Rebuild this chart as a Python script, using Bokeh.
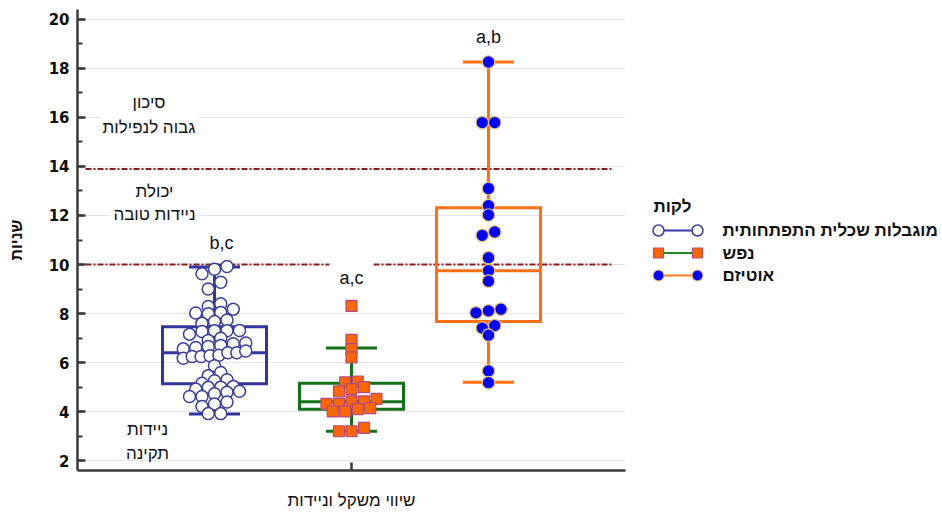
from bokeh.plotting import figure
from bokeh.layouts import row
from bokeh.models import Range1d, Label, FixedTicker, SingleIntervalTicker
from bokeh.embed import file_html
from bokeh.resources import INLINE

# ---------------- data ----------------
groups = ["מוגבלות שכלית התפתחותית", "נפש", "אוטיזם"]
group_x = [1, 2, 3]

# points per beeswarm row, left to right (seconds)
blue_rows = [
    [9.62, 9.81, 9.92],
    [9.0, 9.28],
    [8.29, 8.4],
    [8.02, 7.99, 8.04, 8.18],
    [7.6, 7.68, 7.74],
    [7.16, 7.27, 7.3, 7.3, 7.31],
    [6.9, 6.99],
    [6.56, 6.62, 6.66, 6.7, 6.77, 6.8],
    [6.18, 6.25, 6.25, 6.28, 6.3, 6.4, 6.4, 6.47],
    [5.87],
    [5.46, 5.6],
    [5.16, 5.26, 5.3],
    [4.92, 4.99, 5.0, 5.03],
    [4.62, 4.62, 4.73, 4.79, 4.83],
    [4.21, 4.31, 4.39],
    [3.92, 3.92],
]
green_rows = [
    [8.31],
    [6.93],
    [6.55],
    [6.21],
    [5.19, 5.23],
    [4.83, 4.92, 5.0],
    [4.32, 4.32, 4.42, 4.42, 4.52],
    [4.01, 4.01, 4.1, 4.14],
    [3.2, 3.2, 3.34],
]
orange_rows = [
    [18.26],
    [15.79, 15.79],
    [13.1],
    [12.4],
    [12.02],
    [11.19, 11.33],
    [10.28],
    [9.75],
    [9.32],
    [8.03, 8.11, 8.18],
    [7.41, 7.51],
    [7.12],
    [5.66],
    [5.18],
]

whisker_low = [3.9, 3.2, 5.2]
q1 = [5.14, 4.1, 7.68]
median = [6.4, 4.4, 9.75]
q3 = [7.46, 5.16, 12.32]
whisker_high = [9.9, 6.6, 18.26]

sig_labels = ["b,c", "a,c", "a,b"]
sig_label_y = [10.89, 9.47, 19.27]

thresholds = [10.0, 13.9]
zone_texts = ["סיכון\nגבוה לנפילות", "יכולת\nניידות טובה", "ניידות\nתקינה"]
zone_y = [16.1, 12.51, 2.78]

legend_title = "לקות"
x_axis_title = "שיווי משקל וניידות"
y_axis_title = "שניות"

# ---------------- styles / layout ----------------
BOX_COLORS = ["#33359A", "#13711A", "#FF7014"]
FONT = "Liberation Sans"
X_START, X_END = 0, 4
FRAME_W = 548
PX = (X_END - X_START) / FRAME_W          # data units per pixel
D = 12.5 * PX                             # swarm column step
MAX_HALF = 2.5 * D
BOX_W = 104 * PX
CAP_W = 51 * PX
RULE_X0, RULE_X1 = 8 * PX, 536 * PX
SIG_DX = [7 * PX, 0, 0]
ZONE_X = [71.5 * PX, 77 * PX, 70 * PX]
ZONE_LH = [1.35, 1.25, 1.3]
ZONE_BG = ["white", "white", None]

MAIN_W, H = 633, 512
B_LEFT, B_RIGHT, B_TOP, B_BOTTOM = 77, 8, 9, 42


def swarm(rows, cx):
    xs, ys = [], []
    for r in rows:
        n = len(r)
        step = D if n <= 1 else min(D, 2 * MAX_HALF / (n - 1))
        for i, v in enumerate(r):
            xs.append(cx + (i - (n - 1) / 2) * step)
            ys.append(v)
    return xs, ys


p = figure(width=MAIN_W, height=H, x_range=Range1d(X_START, X_END),
           y_range=Range1d(1.6, 20.4), output_backend="svg", title=None,
           toolbar_location=None, min_border_left=B_LEFT, min_border_right=B_RIGHT,
           min_border_top=B_TOP, min_border_bottom=B_BOTTOM)
p.outline_line_color = None
p.background_fill_color = "white"
p.xgrid.visible = False
p.ygrid.grid_line_color = "#C8C8C8"
p.ygrid.grid_line_dash = "1 1"
p.ygrid.grid_line_width = 1

yax = p.yaxis[0]
yax.ticker = SingleIntervalTicker(interval=2, num_minor_ticks=2)
yax.axis_line_color = "#3A3A3A"
yax.axis_line_width = 2.5
yax.major_tick_line_color = "#3A3A3A"
yax.major_tick_line_width = 2.5
yax.major_tick_in = 8
yax.major_tick_out = 0
yax.minor_tick_line_color = "#3A3A3A"
yax.minor_tick_line_width = 2
yax.minor_tick_in = 5
yax.minor_tick_out = 0
yax.major_label_text_font = "DejaVu Sans"
yax.major_label_text_font_style = "bold"
yax.major_label_text_font_size = "15px"
yax.major_label_text_color = "#111111"
yax.major_label_standoff = 8
yax.axis_label = y_axis_title
yax.axis_label_text_font = FONT
yax.axis_label_text_font_style = "bold"
yax.axis_label_text_font_size = "16px"
yax.axis_label_text_color = "#111111"
yax.axis_label_standoff = 21

xax = p.xaxis[0]
xax.ticker = FixedTicker(ticks=[], minor_ticks=[group_x[1]])
xax.axis_line_color = "#3A3A3A"
xax.axis_line_width = 2.5
xax.major_tick_line_color = None
xax.minor_tick_line_color = "#3A3A3A"
xax.minor_tick_line_width = 2.5
xax.minor_tick_in = 8
xax.minor_tick_out = 0
xax.major_label_standoff = 0
xax.axis_label = x_axis_title
xax.axis_label_text_font = FONT
xax.axis_label_text_font_style = "normal"
xax.axis_label_text_font_size = "17px"
xax.axis_label_text_color = "#111111"
xax.axis_label_standoff = 20

# threshold rules
p.segment(x0=[RULE_X0] * len(thresholds), x1=[RULE_X1] * len(thresholds),
          y0=thresholds, y1=thresholds, line_color="#8B1A1A", line_width=2,
          line_dash="6 2 2 2")

# box plots
left = [g - BOX_W / 2 for g in group_x]
right = [g + BOX_W / 2 for g in group_x]
p.quad(left=left, right=right, top=q3, bottom=q1, fill_color=None,
       line_color=BOX_COLORS, line_width=3, line_join="miter")
p.segment(x0=left, x1=right, y0=median, y1=median, line_color=BOX_COLORS, line_width=3)
p.segment(x0=group_x, x1=group_x, y0=q3, y1=whisker_high, line_color=BOX_COLORS, line_width=3)
p.segment(x0=group_x, x1=group_x, y0=q1, y1=whisker_low, line_color=BOX_COLORS, line_width=3)
cl = [g - CAP_W / 2 for g in group_x]
cr = [g + CAP_W / 2 for g in group_x]
p.segment(x0=cl, x1=cr, y0=whisker_high, y1=whisker_high, line_color=BOX_COLORS, line_width=3)
p.segment(x0=cl, x1=cr, y0=whisker_low, y1=whisker_low, line_color=BOX_COLORS, line_width=3)

# points
bx, by = swarm(blue_rows, group_x[0])
gx, gy = swarm(green_rows, group_x[1])
ox, oy = swarm(orange_rows, group_x[2])
p.scatter(bx, by, marker="circle", size=12, fill_color="white",
          line_color="#3B3DA0", line_width=1.5)
p.scatter(gx, gy, marker="square", size=11, fill_color="#FF6600",
          line_color="#B04C82", line_width=1.2)
p.scatter(ox, oy, marker="circle", size=12.5, fill_color="#0000FF",
          line_color="#E8C36E", line_width=1.2)

# significance letters
for g, dx, t, yv in zip(group_x, SIG_DX, sig_labels, sig_label_y):
    lab = Label(x=g + dx, y=yv, text=t, text_align="center", text_baseline="alphabetic",
                text_font=FONT, text_font_size="18px", text_color="#111111")
    if t == "a,c":
        lab.background_fill_color = "white"
        lab.padding = 10
    p.add_layout(lab)

# zone texts
for t, xv, yv, lh, bg in zip(zone_texts, ZONE_X, zone_y, ZONE_LH, ZONE_BG):
    lab = Label(x=xv, y=yv, text=t, text_align="center", text_baseline="middle",
                text_font=FONT, text_font_size="17px", text_color="#111111",
                text_line_height=lh)
    if bg:
        lab.background_fill_color = bg
        lab.padding = 3
    p.add_layout(lab)

# ---------------- legend panel (page-pixel coordinates) ----------------
LW = 942 - MAIN_W
lg = figure(width=LW, height=H, x_range=Range1d(MAIN_W, 942),
            y_range=Range1d(H - B_BOTTOM, B_TOP), title=None,
            output_backend="svg", toolbar_location=None,
            x_axis_type=None, y_axis_type=None, min_border_left=0, min_border_right=0,
            min_border_top=B_TOP, min_border_bottom=B_BOTTOM)
lg.outline_line_color = None
LEG_X0, LEG_X1, LEG_TX, LEG_TITLE_X = 658, 697, 722, 653
LEG_Y0, LEG_STEP, LEG_TITLE_Y = 230, 22.5, 206
leg_y = [LEG_Y0 + i * LEG_STEP for i in range(len(groups))]
line_cols = ["#3C3CA8", "#1E8C1E", "#FF7A1E"]
lg.segment(x0=[LEG_X0] * 3, x1=[LEG_X1] * 3, y0=leg_y, y1=leg_y,
           line_color=line_cols, line_width=2)
lg.scatter([LEG_X0, LEG_X1], [leg_y[0]] * 2, marker="circle", size=11,
           fill_color="white", line_color="#3B3DA0", line_width=1.5)
lg.scatter([LEG_X0, LEG_X1], [leg_y[1]] * 2, marker="square", size=10,
           fill_color="#FF6600", line_color="#B04C82", line_width=1.2)
lg.scatter([LEG_X0, LEG_X1], [leg_y[2]] * 2, marker="circle", size=11,
           fill_color="#0000FF", line_color="#E8C36E", line_width=1.2)
lg.add_layout(Label(x=LEG_TITLE_X, y=LEG_TITLE_Y, text=legend_title, text_align="left",
                    text_baseline="middle", text_font=FONT, text_font_style="bold",
                    text_font_size="17px", text_color="#111111"))
for t, yv in zip(groups, leg_y):
    lg.add_layout(Label(x=LEG_TX, y=yv, text=t, text_align="left",
                        text_baseline="middle", text_font=FONT, text_font_style="bold",
                        text_font_size="17px", text_color="#111111"))

layout = row(p, lg)
open("out.html", "w").write(file_html(layout, INLINE))
